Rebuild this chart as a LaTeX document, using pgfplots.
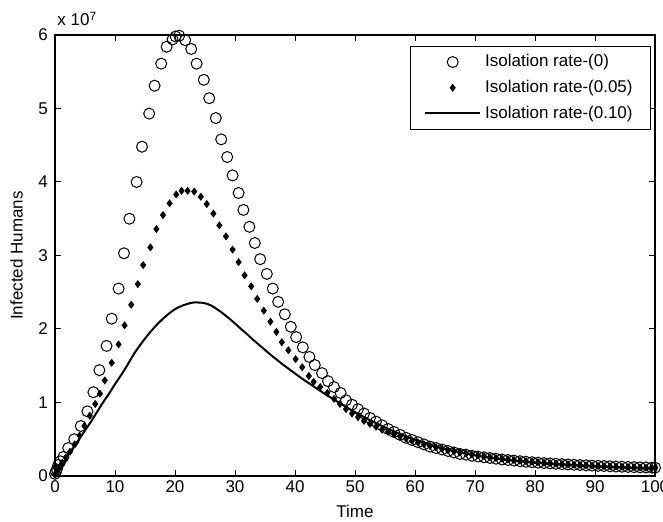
\documentclass[border=0pt]{standalone}
\usepackage{fontspec}
\setmainfont{Liberation Sans}
\usepackage{pgfplots}
\pgfplotsset{compat=1.18}

\begin{document}
\begin{tikzpicture}
\begin{axis}[
  scale only axis, width=300pt, height=220.5pt,
  xmin=0, xmax=100, ymin=0, ymax=6,
  xtick={0,10,...,100}, ytick={0,1,...,6},
  tick align=inside, major tick length=3pt,
  tick style={black, line width=0.5pt},
  axis line style={line width=0.6pt},
  /pgf/number format/assume math mode=true,
  ticklabel style={font=\fontsize{8.5}{10}\selectfont},
  xticklabel style={yshift=1pt},
  xlabel={Time}, ylabel={Infected Humans},
  label style={font=\fontsize{8.5}{10}\selectfont},
  xlabel style={yshift=1pt},
  ylabel style={yshift=1pt},
  clip=false,
  legend style={at={(1,1)}, anchor=north east, xshift=-2pt, yshift=-5.5pt,
    font=\fontsize{8.5}{10}\selectfont, draw=black, line width=0.4pt,
    row sep=1.2pt, inner xsep=7pt, inner ysep=2pt},
  legend cell align=left,
  legend image code/.code={\draw[mark repeat=2,mark phase=2,#1] plot coordinates {(0pt,0pt) (13.75pt,0pt) (27.5pt,0pt)};},
]
% isolation rate 0
\addplot[only marks, mark=o, mark size=2.75pt, mark options={line width=0.5pt, black}] coordinates {
(0,0.03) (0.15,0.06) (0.3,0.09) (0.55,0.15) (0.9,0.20) (1.4,0.26) (2.2,0.38) (3.2,0.50)
(4.3,0.68) (5.4,0.88) (6.4,1.14) (7.4,1.44) (8.6,1.77) (9.45,2.14) (10.6,2.55) (11.5,3.03)
(12.4,3.50) (13.6,4.00) (14.5,4.48) (15.7,4.93) (16.6,5.31) (17.7,5.61) (18.6,5.84) (19.6,5.94)
(20.1,5.98) (20.7,5.99) (21.7,5.93) (22.7,5.81) (23.6,5.61) (24.8,5.39) (25.7,5.14) (26.8,4.87)
(27.7,4.58) (28.7,4.34) (29.6,4.09) (30.6,3.85) (31.4,3.62) (32.4,3.39) (33.3,3.17) (34.2,2.95)
(35.3,2.75) (36.3,2.55) (37.2,2.37) (38.3,2.20) (39.3,2.03) (40.2,1.89) (41.3,1.75) (42.4,1.62)
(43.3,1.51) (44.5,1.40) (45.5,1.29) (46.5,1.21) (47.6,1.13) (48.5,1.03) (49.5,0.97)
(50.5,0.91) (51.5,0.85) (52.5,0.79) (53.5,0.74) (54.5,0.69) (55.5,0.64) (56.5,0.60) (57.5,0.56)
(58.5,0.52) (59.5,0.49) (60.5,0.46) (61.5,0.43) (62.5,0.40) (63.5,0.38) (64.5,0.36) (65.5,0.34)
(66.5,0.32) (67.5,0.30) (68.5,0.29) (69.5,0.275) (70.5,0.265) (71.5,0.255) (72.5,0.245) (73.5,0.235)
(74.5,0.225) (75.5,0.217) (76.5,0.209) (77.5,0.201) (78.5,0.194) (79.5,0.187) (80.5,0.181) (81.5,0.176)
(82.5,0.171) (83.5,0.166) (84.5,0.161) (85.5,0.157) (86.5,0.153) (87.5,0.149) (88.5,0.145) (89.5,0.141)
(90.5,0.138) (91.5,0.135) (92.5,0.132) (93.5,0.129) (94.5,0.126) (95.5,0.123) (96.5,0.120) (97.5,0.118)
(98.5,0.116) (99.5,0.114) (100,0.113)
};
\addlegendentry{Isolation rate-(0)}
% isolation rate 0.05
\addplot[only marks, mark=diamond*, mark size=1.7pt, black] coordinates {
(0,0.02) (0.15,0.04) (0.3,0.06) (0.5,0.09) (0.8,0.13) (1.2,0.18) (1.8,0.25) (2.5,0.33)
(3.3,0.43) (4.1,0.55) (4.9,0.68) (5.8,0.82) (6.7,0.98) (7.5,1.12) (8.3,1.30) (9.45,1.54)
(10.6,1.79) (11.6,2.05) (12.7,2.33) (13.8,2.61) (14.7,2.87) (15.9,3.11) (16.9,3.36) (18.0,3.55)
(19.1,3.71) (20.2,3.83) (21.1,3.88) (22.1,3.88) (23.2,3.87) (24.3,3.80) (25.3,3.70) (26.4,3.57)
(27.4,3.41) (28.5,3.26) (29.6,3.08) (30.6,2.91) (31.6,2.73) (32.7,2.58) (33.7,2.41) (34.8,2.25)
(35.9,2.10) (36.9,1.96) (37.8,1.82) (38.9,1.71) (40.1,1.59) (41.2,1.48) (42.3,1.36) (43.1,1.28)
(44.2,1.21) (45.4,1.13) (46.5,1.05) (47.5,0.98) (48.5,0.91) (49.5,0.85)
(50.5,0.80) (51.5,0.75) (52.5,0.71) (53.5,0.67) (54.5,0.63) (55.5,0.60) (56.5,0.57) (57.5,0.54)
(58.5,0.51) (59.5,0.48) (60.5,0.455) (61.5,0.43) (62.5,0.41) (63.5,0.39) (64.5,0.37) (65.5,0.35)
(66.5,0.335) (67.5,0.32) (68.5,0.305) (69.5,0.29) (70.5,0.28) (71.5,0.268) (72.5,0.256) (73.5,0.245)
(74.5,0.235) (75.5,0.226) (76.5,0.217) (77.5,0.209) (78.5,0.201) (79.5,0.194) (80.5,0.187) (81.5,0.181)
(82.5,0.175) (83.5,0.169) (84.5,0.164) (85.5,0.159) (86.5,0.154) (87.5,0.150) (88.5,0.146) (89.5,0.142)
(90.5,0.138) (91.5,0.134) (92.5,0.131) (93.5,0.128) (94.5,0.125) (95.5,0.122) (96.5,0.119) (97.5,0.116)
(98.5,0.113) (99.5,0.110) (100,0.108)
};
\addlegendentry{Isolation rate-(0.05)}
% isolation rate 0.10
\addplot[black, line width=1pt, no marks, smooth] coordinates {
(0,0.02) (1,0.14) (2,0.26) (3,0.38) (4,0.50) (5,0.62) (6,0.74) (7,0.87) (8,1.00) (9,1.12)
(10,1.25) (11,1.37) (12,1.50) (13,1.64) (14,1.76) (15,1.87) (16,1.97) (17,2.06) (18,2.14) (19,2.21)
(20,2.27) (21,2.31) (22,2.34) (23,2.36) (24,2.36) (25,2.35) (26,2.32) (27,2.27) (28,2.21) (29,2.145)
(30,2.075) (31,2.00) (32,1.93) (33,1.855) (34,1.785) (35,1.715) (36,1.645) (37,1.58) (38,1.515) (39,1.455)
(40,1.395) (41,1.335) (42,1.28) (43,1.225) (44,1.17) (45,1.115) (46,1.065) (47,1.015) (48,0.965) (49,0.915)
(50,0.87) (51,0.825) (52,0.78) (53,0.74) (54,0.70) (55,0.66) (56,0.625) (57,0.59) (58,0.555) (59,0.525)
(60,0.495) (62,0.44) (64,0.39) (66,0.35) (68,0.315) (70,0.28) (72,0.252) (74,0.23) (76,0.21) (78,0.193)
(80,0.178) (82,0.165) (84,0.154) (86,0.144) (88,0.135) (90,0.127) (92,0.12) (94,0.113) (96,0.107)
(98,0.101) (100,0.096)
};
\addlegendentry{Isolation rate-(0.10)}
\node[anchor=base west, inner sep=0pt, font=\fontsize{8.5}{10}\selectfont]
  at ([xshift=1pt, yshift=4.5pt]rel axis cs:0,1) {x 10\textsuperscript{7}};
\end{axis}
\pgfresetboundingbox
\path[use as bounding box] ([xshift=-27.5pt, yshift=-23pt]current axis.south west)
  rectangle ([xshift=4pt, yshift=17.5pt]current axis.north east);
\end{tikzpicture}
\end{document}
